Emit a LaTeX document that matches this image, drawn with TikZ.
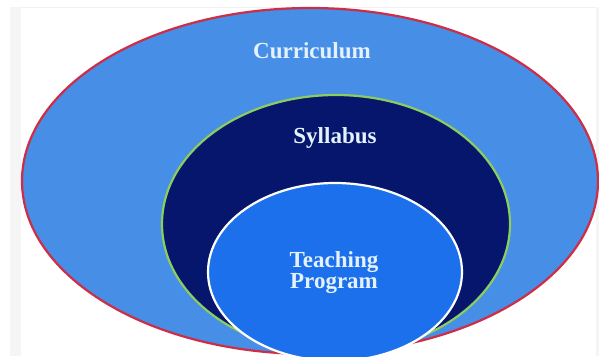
\documentclass[tikz,border=0pt]{standalone}
\usepackage{fontspec}
\setmainfont{Liberation Serif}

\definecolor{currblue}{RGB}{70,142,230}
\definecolor{syllnavy}{RGB}{6,22,108}
\definecolor{teachblue}{RGB}{28,112,236}
\definecolor{rimred}{RGB}{205,45,70}
\definecolor{rimgreen}{RGB}{140,205,95}
\definecolor{labeltext}{RGB}{228,242,255}

\tikzset{
	ring/.style = {line width=2.2pt},
	label/.style = {text=labeltext, font=\bfseries\fontsize{23}{21}\selectfont,
		align=center, anchor=base, inner sep=0pt}
}

\begin{document}
\begin{tikzpicture}[x=1pt,y=-1pt]
		\useasboundingbox (0,0) rectangle (599,356);
		\clip (0,0) rectangle (599,356);
		%page behind the rings
		\fill[white] (0,0) rectangle (599,356);
		\fill[gray!8] (10,7) rectangle (21,356);
		\fill[gray!8] (596,7) rectangle (599,356);
		\draw[gray!12, line width=0.8pt] (21,7.5) -- (596,7.5);
		
		%three nested rings
		\draw[ring, draw=rimred, fill=currblue] (310,181) ellipse [x radius=288, y radius=173];
		\draw[ring, draw=rimgreen, fill=syllnavy] (336,224) ellipse [x radius=174, y radius=129];
		\draw[ring, draw=white, fill=teachblue] (335,272) ellipse [x radius=127, y radius=89];
		
		\node[label] (curr) at (312,58) {Curriculum};
		\node[label] (syll) at (335,143) {Syllabus};
		\node[label] (teach) at (334,288) {Teaching\\Program};
\end{tikzpicture}
\end{document}
